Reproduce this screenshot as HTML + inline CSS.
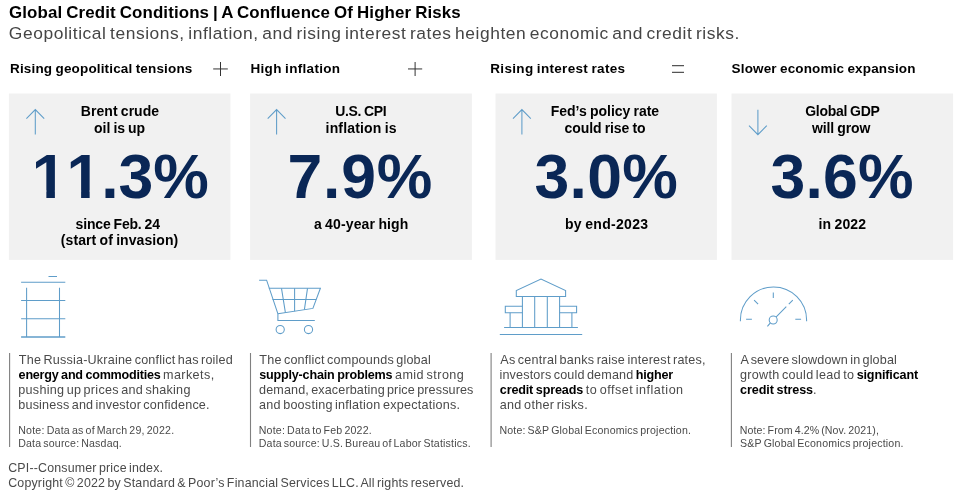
<!DOCTYPE html>
<html lang="en">
<head>
<meta charset="utf-8">
<title>Global Credit Conditions | A Confluence Of Higher Risks</title>
<style>
html,body{margin:0;padding:0;background:#fff;}
body{width:968px;height:502px;position:relative;overflow:hidden;font-family:"Liberation Sans",sans-serif;color:#4a4a4a;}
.t{position:absolute;margin:0;padding:0;white-space:nowrap;font-weight:400;font-family:"Liberation Sans",sans-serif;color:#4a4a4a;word-spacing:-0.11em;}
.subtitle{color:#454545;}
.t b{font-weight:700;color:#000;word-spacing:-0.05em;}
.title,.hdr,.ct,.cs{font-weight:700;color:#000;word-spacing:-0.05em;}
.num{font-weight:700;color:#0a2756;font-kerning:none;}
#art,#trim{position:absolute;left:0;top:0;width:968px;height:502px;pointer-events:none;}
</style>
</head>
<body>
<svg id="art" width="968" height="502" viewBox="0 0 968 502" fill="none">
  <!-- cards -->
  <g fill="#f1f1f1">
    <rect x="8.9" y="93.5" width="221.5" height="166.4"/>
    <rect x="250.1" y="93.5" width="221.8" height="166.4"/>
    <rect x="495.5" y="93.5" width="221.4" height="166.4"/>
    <rect x="731.5" y="93.5" width="221.6" height="166.4"/>
  </g>
  <!-- operators -->
  <g stroke="#333" stroke-width="1">
    <path d="M213.2 68.95H227.8M220.5 62V76"/>
    <path d="M408 68.95H422.2M415.1 62V76"/>
    <path d="M672 65.65H684M672 72.35H684" stroke="#555" stroke-width="1.2"/>
  </g>
  <!-- vertical rules -->
  <g stroke="#808080" stroke-width="1.1">
    <path d="M9.6 353.1V446.9M250.5 353.1V446.9M491.1 353.1V446.9M731.4 353.1V446.9"/>
  </g>
  <!-- arrows -->
  <g stroke="#5f9dc9" stroke-width="1.05" stroke-linejoin="miter">
    <path d="M35.3 134.6V109.6M26.4 118.6L35.3 109.6L44.2 118.6"/>
    <path d="M276.6 134.6V109.6M267.7 118.6L276.6 109.6L285.5 118.6"/>
    <path d="M521.9 134.6V109.6M513 118.6L521.9 109.6L530.8 118.6"/>
    <path d="M757.9 109.8V134.7M749 125.7L757.9 134.7L766.8 125.7"/>
  </g>
  <!-- icons -->
  <g stroke="#5f9dc9" stroke-width="1.05">
    <!-- barrel -->
    <path d="M48.5 276.5H57M21.1 282.3H65.3M21.1 300.4H65.3M21.1 318.7H65.3M26.6 287.8V337M59.5 287.8V337"/>
    <path d="M21.1 337H65.3" stroke-width="1.3"/>
    <!-- cart -->
    <path d="M259.1 280.2H266.6L277.9 313.8V320.4H314.8"/>
    <path d="M268.8 288.3H320.4L312.9 308.4L277.9 313.8"/>
    <path d="M272.5 299.5H316.3"/>
    <path d="M281.5 288.3L285.4 312.6M294.6 288.3V311.2M307.5 288.3L304.4 309.7"/>
    <circle cx="280.2" cy="329.5" r="4.1"/>
    <circle cx="308.5" cy="329.5" r="4.1"/>
    <!-- bank -->
    <path d="M516.3 296.4V290.6L541 279L565.6 290.6V296.4Z"/>
    <path d="M522.4 296.4V327.5M534.7 296.4V327.5M547.3 296.4V327.5M559.6 296.4V327.5"/>
    <path d="M522.4 306.2H505.3V312.7H522.4M559.6 306.2H576.6V312.7H559.6"/>
    <path d="M510.1 312.7V327.5M571.9 312.7V327.5"/>
    <path d="M504.1 327.5H577.9M499.8 334.5H582.2"/>
    <!-- gauge -->
    <path d="M740.4 321.3V320A33.1 33.1 0 0 1 806.6 320V321.3"/>
    <path d="M773.3 292.4V298.1M746.1 319.2H751.9M795.3 319.2H801.1M754.1 300.1L758.1 304.2M792.8 300.1L788.8 304.2"/>
    <circle cx="773.2" cy="320" r="4"/>
    <path d="M786.3 306.7L776 317.2M770.4 322.9L767.4 326.3"/>
  </g>
</svg>
<header>
<h1 class="t title" style="left:9.01px;top:3.00px;font-size:16.90px;line-height:20px;letter-spacing:0.120px">Global Credit Conditions | A Confluence Of Higher Risks</h1>
<p class="t subtitle" style="left:8.82px;top:23.00px;font-size:17.40px;line-height:21px;letter-spacing:0.571px">Geopolitical tensions, inflation, and rising interest rates heighten economic and credit risks.</p>
</header>
<main>
<section class="col">
<h2 class="t hdr" style="left:10.00px;top:61.00px;font-size:13.50px;line-height:16px;letter-spacing:0.164px">Rising geopolitical tensions</h2>
<div class="t ct" style="left:80.86px;top:103.00px;font-size:14.00px;line-height:17px;letter-spacing:0.034px">Brent crude</div>
<div class="t ct" style="left:94.05px;top:120.00px;font-size:14.00px;line-height:17px;letter-spacing:-0.047px">oil is up</div>
<div class="t num" style="left:31.66px;top:139.00px;font-size:62.50px;line-height:75px;letter-spacing:0.016px">11.3%</div>
<div class="t cs" style="left:75.61px;top:216.00px;font-size:14.00px;line-height:17px;letter-spacing:-0.180px">since Feb. 24</div>
<div class="t cs" style="left:60.80px;top:232.00px;font-size:14.00px;line-height:17px;letter-spacing:0.074px">(start of invasion)</div>
<div class="t body" style="left:18.82px;top:353.00px;font-size:12.60px;line-height:15px;letter-spacing:0.201px">The Russia-Ukraine conflict has roiled</div>
<div class="t body" style="left:18.61px;top:368.00px;font-size:12.60px;line-height:15px;letter-spacing:0.406px"><b style="letter-spacing:-0.238px">energy and commodities</b> markets,</div>
<div class="t body" style="left:18.29px;top:383.00px;font-size:12.60px;line-height:15px;letter-spacing:0.269px">pushing up prices and shaking</div>
<div class="t body" style="left:18.29px;top:398.00px;font-size:12.60px;line-height:15px;letter-spacing:0.178px">business and investor confidence.</div>
<div class="t note" style="left:18.23px;top:424.00px;font-size:10.60px;line-height:13px;letter-spacing:0.222px">Note: Data as of March 29, 2022.</div>
<div class="t note" style="left:18.23px;top:437.00px;font-size:10.60px;line-height:13px;letter-spacing:0.179px">Data source: Nasdaq.</div>
</section>
<section class="col">
<h2 class="t hdr" style="left:250.50px;top:61.00px;font-size:13.50px;line-height:16px;letter-spacing:0.306px">High inflation</h2>
<div class="t ct" style="left:335.26px;top:103.00px;font-size:14.00px;line-height:17px;letter-spacing:-0.355px">U.S. CPI</div>
<div class="t ct" style="left:325.62px;top:120.00px;font-size:14.00px;line-height:17px;letter-spacing:0.158px">inflation is</div>
<div class="t num" style="left:287.51px;top:139.00px;font-size:62.50px;line-height:75px;letter-spacing:0.822px">7.9%</div>
<div class="t cs" style="left:313.89px;top:216.00px;font-size:14.00px;line-height:17px;letter-spacing:0.132px">a 40-year high</div>
<div class="t body" style="left:259.32px;top:353.00px;font-size:12.60px;line-height:15px;letter-spacing:0.198px">The conflict compounds global</div>
<div class="t body" style="left:259.16px;top:368.00px;font-size:12.60px;line-height:15px;letter-spacing:0.441px"><b style="letter-spacing:-0.189px">supply-chain problems</b> amid strong</div>
<div class="t body" style="left:259.07px;top:383.00px;font-size:12.60px;line-height:15px;letter-spacing:0.123px">demand, exacerbating price pressures</div>
<div class="t body" style="left:259.06px;top:398.00px;font-size:12.60px;line-height:15px;letter-spacing:0.240px">and boosting inflation expectations.</div>
<div class="t note" style="left:258.73px;top:424.00px;font-size:10.60px;line-height:13px;letter-spacing:0.210px">Note: Data to Feb 2022.</div>
<div class="t note" style="left:258.73px;top:437.00px;font-size:10.60px;line-height:13px;letter-spacing:0.185px">Data source: U.S. Bureau of Labor Statistics.</div>
</section>
<section class="col">
<h2 class="t hdr" style="left:490.30px;top:61.00px;font-size:13.50px;line-height:16px;letter-spacing:0.315px">Rising interest rates</h2>
<div class="t ct" style="left:550.76px;top:103.00px;font-size:14.00px;line-height:17px;letter-spacing:-0.010px">Fed’s policy rate</div>
<div class="t ct" style="left:564.45px;top:120.00px;font-size:14.00px;line-height:17px;letter-spacing:-0.054px">could rise to</div>
<div class="t num" style="left:534.47px;top:139.00px;font-size:62.50px;line-height:75px;letter-spacing:0.338px">3.0%</div>
<div class="t cs" style="left:564.88px;top:216.00px;font-size:14.00px;line-height:17px;letter-spacing:0.289px">by end-2023</div>
<div class="t body" style="left:500.28px;top:353.00px;font-size:12.60px;line-height:15px;letter-spacing:0.232px">As central banks raise interest rates,</div>
<div class="t body" style="left:499.46px;top:368.00px;font-size:12.60px;line-height:15px;letter-spacing:0.170px">investors could demand <b style="letter-spacing:-0.203px">higher</b></div>
<div class="t body" style="left:499.81px;top:383.00px;font-size:12.60px;line-height:15px;letter-spacing:0.486px"><b style="letter-spacing:-0.158px">credit spreads</b> to offset inflation</div>
<div class="t body" style="left:499.76px;top:398.00px;font-size:12.60px;line-height:15px;letter-spacing:0.304px">and other risks.</div>
<div class="t note" style="left:499.43px;top:424.00px;font-size:10.60px;line-height:13px;letter-spacing:0.183px">Note: S&amp;P Global Economics projection.</div>
</section>
<section class="col">
<h2 class="t hdr" style="left:731.61px;top:61.00px;font-size:13.50px;line-height:16px;letter-spacing:0.151px">Slower economic expansion</h2>
<div class="t ct" style="left:805.23px;top:103.00px;font-size:14.00px;line-height:17px;letter-spacing:-0.271px">Global GDP</div>
<div class="t ct" style="left:811.94px;top:120.00px;font-size:14.00px;line-height:17px;letter-spacing:-0.096px">will grow</div>
<div class="t num" style="left:770.47px;top:139.00px;font-size:62.50px;line-height:75px;letter-spacing:0.238px">3.6%</div>
<div class="t cs" style="left:818.52px;top:216.00px;font-size:14.00px;line-height:17px;letter-spacing:0.126px">in 2022</div>
<div class="t body" style="left:740.58px;top:353.00px;font-size:12.60px;line-height:15px;letter-spacing:0.138px">A severe slowdown in global</div>
<div class="t body" style="left:740.07px;top:368.00px;font-size:12.60px;line-height:15px;letter-spacing:0.282px">growth could lead to <b style="letter-spacing:-0.149px">significant</b></div>
<div class="t body" style="left:740.11px;top:383.00px;font-size:12.60px;line-height:15px;letter-spacing:0.000px"><b style="letter-spacing:-0.106px">credit stress</b>.</div>
<div class="t note" style="left:739.73px;top:424.00px;font-size:10.60px;line-height:13px;letter-spacing:0.121px">Note: From 4.2% (Nov. 2021),</div>
<div class="t note" style="left:740.12px;top:437.00px;font-size:10.60px;line-height:13px;letter-spacing:0.184px">S&amp;P Global Economics projection.</div>
</section>
</main>
<footer>
<div class="t foot" style="left:8.17px;top:461.00px;font-size:12.40px;line-height:15px;letter-spacing:0.189px">CPI--Consumer price index.</div>
<div class="t foot" style="left:8.17px;top:476.00px;font-size:12.40px;line-height:15px;letter-spacing:0.196px">Copyright © 2022 by Standard &amp; Poor’s Financial Services LLC. All rights reserved.</div>
</footer>
<svg id="trim" width="968" height="502" viewBox="0 0 968 502" aria-hidden="true">
  <g fill="#f1f1f1">
    <rect x="34.5" y="190.5" width="11.86" height="8.5"/>
    <rect x="54.89" y="190.5" width="10.6" height="8.5"/>
    <rect x="69.5" y="190.5" width="11.61" height="8.5"/>
    <rect x="89.64" y="190.5" width="10.6" height="8.5"/>
  </g>
</svg>
</body>
</html>
